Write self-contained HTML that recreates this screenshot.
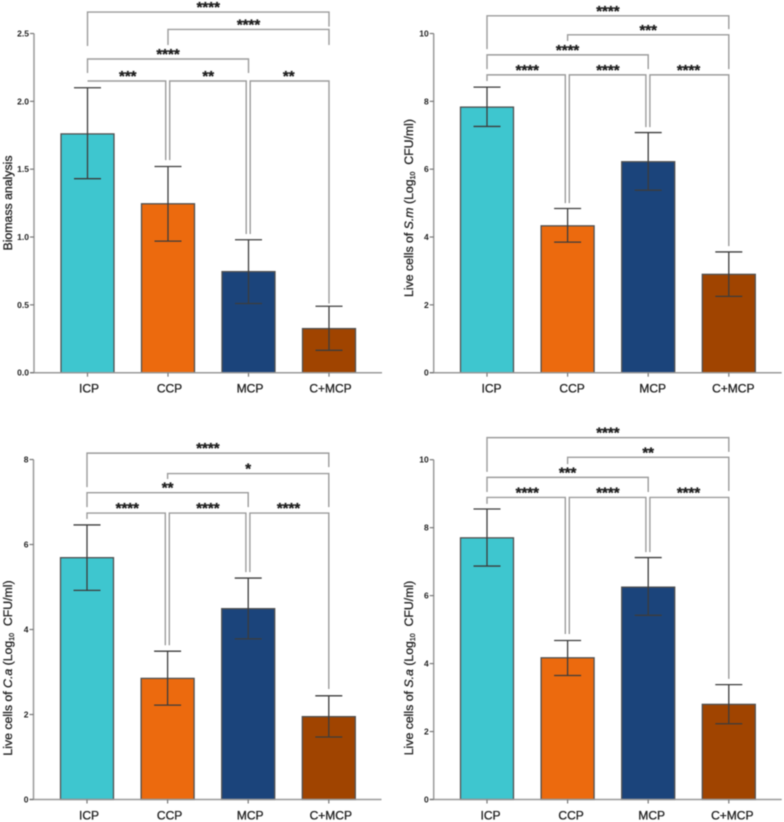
<!DOCTYPE html>
<html lang="en">
<head>
<meta charset="utf-8">
<title>Bar charts of biomass and live cells</title>
<style>
html,body{margin:0;padding:0;background:#fff;}
body{width:784px;height:822px;overflow:hidden;}
svg{display:block;filter:blur(0.5px);}
text{font-family:"Liberation Sans",sans-serif;fill:#222;}
</style>
</head>
<body>
<svg id="figure" xmlns="http://www.w3.org/2000/svg" width="784" height="822" viewBox="0 0 784 822"></svg>
<script>
const categories = ['ICP', 'CCP', 'MCP', 'C+MCP'];
const barColors = ['#3ec6cf', '#ec6a0e', '#1b447b', '#a04400'];
const bracketFrom = [0, 1, 0, 0, 1, 2];
const bracketTo = [3, 3, 2, 1, 2, 3];

const biomassTicks = [0, 0.5, 1, 1.5, 2, 2.5];
const biomassValues = [1.76, 1.245, 0.745, 0.325];
const biomassErrHigh = [2.10, 1.52, 0.98, 0.49];
const biomassErrLow = [1.43, 0.97, 0.51, 0.165];
const biomassSig = ['****', '****', '****', '***', '**', '**'];
const biomassLevel = [2.658, 2.53, 2.312, 2.15, 2.15, 2.15];
const biomassLeftEnd = [2.408, 2.415, 2.209, 2.15, 1.567, 1.022];
const biomassRightEnd = [2.551, 2.415, 2.209, 1.567, 1.022, 0.51];

const smTicks = [0, 2, 4, 6, 8, 10];
const smValues = [7.83, 4.33, 6.22, 2.9];
const smErrHigh = [8.42, 4.84, 7.08, 3.56];
const smErrLow = [7.26, 3.85, 5.38, 2.25];
const smSig = ['****', '***', '****', '****', '****', '****'];
const smLevel = [10.52, 9.96, 9.37, 8.78, 8.78, 8.78];
const smLeftEnd = [9.54, 9.78, 8.95, 8.6, 5.0, 7.24];
const smRightEnd = [10.13, 8.95, 8.95, 5.0, 7.24, 3.73];

const caTicks = [0, 2, 4, 6, 8];
const caValues = [5.69, 2.85, 4.49, 1.95];
const caErrHigh = [6.46, 3.49, 5.21, 2.44];
const caErrLow = [4.92, 2.22, 3.78, 1.47];
const caSig = ['****', '*', '**', '****', '****', '****'];
const caLevel = [8.15, 7.67, 7.22, 6.74, 6.74, 6.74];
const caLeftEnd = [7.35, 7.54, 6.88, 6.6, 3.63, 5.35];
const caRightEnd = [7.82, 6.88, 6.88, 3.63, 5.35, 2.6];

const saTicks = [0, 2, 4, 6, 8, 10];
const saValues = [7.7, 4.17, 6.25, 2.8];
const saErrHigh = [8.55, 4.68, 7.12, 3.38];
const saErrLow = [6.87, 3.65, 5.42, 2.23];
const saSig = ['****', '**', '***', '****', '****', '****'];
const saLevel = [10.65, 10.07, 9.48, 8.89, 8.89, 8.89];
const saLeftEnd = [9.64, 9.87, 9.05, 8.7, 4.87, 7.28];
const saRightEnd = [10.23, 9.08, 9.05, 4.87, 7.28, 3.55];

const NS = 'http://www.w3.org/2000/svg';
const figure = document.getElementById('figure');

function makeLine(parent, x1, y1, x2, y2, color, width) {
  const el = document.createElementNS(NS, 'line');
  el.setAttribute('x1', x1);
  el.setAttribute('y1', y1);
  el.setAttribute('x2', x2);
  el.setAttribute('y2', y2);
  el.setAttribute('stroke', color);
  el.setAttribute('stroke-width', width);
  parent.appendChild(el);
  return el;
}

function makeText(parent, x, y, str, size, weight, anchor) {
  const el = document.createElementNS(NS, 'text');
  el.setAttribute('x', x);
  el.setAttribute('y', y);
  el.setAttribute('font-size', size);
  el.setAttribute('font-weight', weight);
  el.setAttribute('text-anchor', anchor);
  el.textContent = str;
  parent.appendChild(el);
  return el;
}

function addSpan(parent, str, italic, sub) {
  const el = document.createElementNS(NS, 'tspan');
  el.textContent = str;
  if (italic) el.setAttribute('font-style', 'italic');
  if (sub) {
    el.setAttribute('font-size', '7');
    el.setAttribute('dy', '2');
  }
  parent.appendChild(el);
  return el;
}

function drawPanel(p) {
  const g = document.createElementNS(NS, 'g');
  
  
  figure.appendChild(g);

  const yScale = v => p.y0 - (v / p.yMax) * (p.y0 - p.yTop);
  const xScale = i => p.xFirst + i * p.xStep;
  const barW = 53;

  // bars
  categories.forEach((c, i) => {
    const r = document.createElementNS(NS, 'rect');
    r.setAttribute('x', xScale(i) - barW / 2);
    r.setAttribute('y', yScale(p.values[i]));
    r.setAttribute('width', barW);
    r.setAttribute('height', p.y0 - yScale(p.values[i]));
    r.setAttribute('fill', barColors[i]);
    r.setAttribute('stroke', '#505050');
    r.setAttribute('stroke-width', '1.3');
    
    
    g.appendChild(r);
  });

  // error bars
  categories.forEach((c, i) => {
    const x = xScale(i);
    const hi = yScale(p.errHigh[i]);
    const lo = yScale(p.errLow[i]);
    const stem = makeLine(g, x, hi, x, lo, '#3c3c3c', 1.3);
    
    
    const capHi = makeLine(g, x - 13.5, hi, x + 13.5, hi, '#3c3c3c', 1.3);
    
    
    const capLo = makeLine(g, x - 13.5, lo, x + 13.5, lo, '#3c3c3c', 1.3);
    
    
  });

  // axes
  const yAxis = makeLine(g, p.xAxis, p.yTop, p.xAxis, p.y0, '#9a9a9a', 1.5);
  
  
  const xAxis = makeLine(g, p.xAxis - 4, p.y0, p.xAxis + 348, p.y0, '#9a9a9a', 1.5);
  
  

  p.ticks.forEach(t => {
    const y = yScale(t);
    const tick = makeLine(g, p.xAxis - 4, y, p.xAxis, y, '#777', 1.2);
    
    
    const label = makeText(g, p.xAxis - 5, y + 3, p.decimals ? t.toFixed(p.decimals) : String(t), 8.5, 'bold', 'end');
    
    
  });

  categories.forEach((c, i) => {
    const x = xScale(i);
    const tick = makeLine(g, x, p.y0, x, p.y0 + 4, '#777', 1.2);
    
    
    const label = makeText(g, x + p.labelShift, p.y0 + 20, c, 12, 'normal', 'middle');
    
    
    label.setAttribute('stroke', '#222');
    label.setAttribute('stroke-width', '0.3');
  });

  // y-axis title
  const title = makeText(g, 0, 0, '', 12.3, 'normal', 'middle');
  title.setAttribute('transform', 'translate(' + p.titleX + ',' + p.titleY + ') rotate(-90)');
  title.setAttribute('stroke', '#222');
  title.setAttribute('stroke-width', '0.3');
  
  
  if (p.species) {
    addSpan(title, 'Live cells of ', false, false);
    addSpan(title, p.species, true, false);
    addSpan(title, ' (Log', false, false);
    addSpan(title, '10', false, true);
    const rest = addSpan(title, ' \u00a0CFU/ml)', false, false);
    rest.setAttribute('dy', '-2');
  } else {
    addSpan(title, 'Biomass analysis', false, false);
  }

  // significance brackets
  bracketFrom.forEach((from, i) => {
    const to = bracketTo[i];
    const adjacent = to - from === 1;
    const xl = xScale(from) + (adjacent && from > 0 ? 1.7 : 0);
    const xr = xScale(to) - (adjacent && to < 3 ? 2.3 : 0);
    const y = yScale(p.level[i]);
    const bracket = document.createElementNS(NS, 'polyline');
    bracket.setAttribute('points', [xl, yScale(p.leftEnd[i]), xl, y, xr, y, xr, yScale(p.rightEnd[i])].join(' '));
    bracket.setAttribute('fill', 'none');
    bracket.setAttribute('stroke', '#9c9c9c');
    bracket.setAttribute('stroke-width', '1.4');
    
    
    g.appendChild(bracket);
    const star = makeText(g, (xScale(from) + xScale(to)) / 2, y, p.sig[i], 15, 'bold', 'middle');
    star.setAttribute('fill', '#111');
    star.setAttribute('stroke', '#111');
    star.setAttribute('stroke-width', '0.3');
    
    
  });
}

drawPanel({name: 'biomass', species: '', values: biomassValues, errHigh: biomassErrHigh, errLow: biomassErrLow,
  ticks: biomassTicks, decimals: 1, sig: biomassSig, level: biomassLevel, leftEnd: biomassLeftEnd, rightEnd: biomassRightEnd,
  yMax: 2.5, y0: 372.7, yTop: 33.5, xAxis: 34, xFirst: 87.5, xStep: 80.5, titleX: 12, titleY: 203, labelShift: 1.5});
drawPanel({name: 'sm', species: 'S.m', values: smValues, errHigh: smErrHigh, errLow: smErrLow,
  ticks: smTicks, decimals: 0, sig: smSig, level: smLevel, leftEnd: smLeftEnd, rightEnd: smRightEnd,
  yMax: 10, y0: 372.7, yTop: 33.5, xAxis: 433.7, xFirst: 487, xStep: 80.6, titleX: 413, titleY: 208, labelShift: 4.5});
drawPanel({name: 'ca', species: 'C.a', values: caValues, errHigh: caErrHigh, errLow: caErrLow,
  ticks: caTicks, decimals: 0, sig: caSig, level: caLevel, leftEnd: caLeftEnd, rightEnd: caRightEnd,
  yMax: 8, y0: 799.5, yTop: 459.5, xAxis: 33.5, xFirst: 87, xStep: 80.6, titleX: 12, titleY: 668, labelShift: 2});
drawPanel({name: 'sa', species: 'S.a', values: saValues, errHigh: saErrHigh, errLow: saErrLow,
  ticks: saTicks, decimals: 0, sig: saSig, level: saLevel, leftEnd: saLeftEnd, rightEnd: saRightEnd,
  yMax: 10, y0: 799.5, yTop: 459.7, xAxis: 433.7, xFirst: 487, xStep: 80.6, titleX: 413, titleY: 668, labelShift: 3.5});
</script>
</body>
</html>
